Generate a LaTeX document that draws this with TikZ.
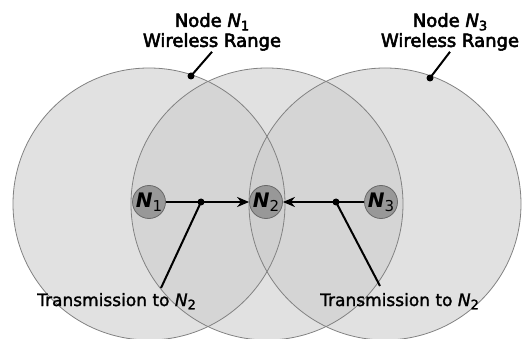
\documentclass[tikz,border=0pt]{standalone}
\usepackage{fontspec}
\setmainfont{DejaVu Sans}
\newfontfamily\rangefont[FakeBold=3]{DejaVu Sans}
\newfontfamily\captionfont[FakeBold=1.5]{DejaVu Sans}
\usetikzlibrary{arrows.meta}
\definecolor{rangefill}{RGB}{205,205,205}
\definecolor{rangeedge}{RGB}{130,130,130}
\definecolor{nodefill}{RGB}{152,152,152}
\definecolor{nodeedge}{RGB}{105,105,105}
\tikzset{
  rangedisc/.style={fill=rangefill, fill opacity=0.6},
  rangeline/.style={draw=rangeedge, line width=0.8pt},
  netnode/.style={circle, fill=nodefill, draw=nodeedge, line width=0.8pt,
    minimum size=33pt, inner sep=0pt, font=\fontsize{20}{20}\selectfont},
  txlink/.style={line width=2.3pt, -{Stealth[length=12pt,width=10pt]}},
  leadline/.style={line width=2pt},
  joint/.style={circle, fill=black, inner sep=0pt, minimum size=7pt},
  txcaption/.style={font=\captionfont\fontsize{17}{20}\selectfont, inner sep=0pt},
  rangelabel/.style={font=\rangefont\fontsize{18}{20}\selectfont, align=center, inner sep=1pt},
}
% node name: bold italic N with a plain subscript
\newcommand{\netname}[1]{\textbf{\textit{N}}\raisebox{-0.35ex}{\fontsize{15}{15}\selectfont #1}}
% name in running text
\newcommand{\txtname}[2]{\textit{N}\raisebox{-0.35ex}{\fontsize{#2}{#2}\selectfont #1}}
\begin{document}
\begin{tikzpicture}[x=1pt,y=-1pt]
\useasboundingbox (0,0) rectangle (522,339);
% wireless ranges
\coordinate (c1) at (149,204);
\coordinate (c2) at (267,204);
\coordinate (c3) at (385,204);
\fill[rangedisc] (c1) circle[radius=136];
\fill[rangedisc] (c2) circle[radius=136];
\fill[rangedisc] (c3) circle[radius=136];
\draw[rangeline] (c1) circle[radius=136];
\draw[rangeline] (c2) circle[radius=136];
\draw[rangeline] (c3) circle[radius=136];
% network nodes
\node[netnode] (n1) at (149,202) {\netname{1}};
\node[netnode] (n2) at (266,202) {\netname{2}};
\node[netnode] (n3) at (381,202) {\netname{3}};
% transmissions
\draw[txlink] (n1) -- (n2);
\draw[txlink] (n3) -- (n2);
\node[joint] (d1) at (201,202) {};
\node[joint] (d2) at (336,202) {};
\node[txcaption, anchor=base west] (tx1) at (37,306) {Transmission to \txtname{2}{13}};
\node[txcaption, anchor=base west] (tx2) at (320,306) {Transmission to \txtname{2}{13}};
\coordinate (e1) at (161,288);
\coordinate (e2) at (380,286);
\draw[leadline] (d1.center) -- (e1);
\draw[leadline] (d2.center) -- (e2);
% range labels
\node[rangelabel, anchor=north] (r1) at (212,12) {Node \txtname{1}{13}\\Wireless Range};
\node[rangelabel, anchor=north] (r3) at (450,12) {Node \txtname{3}{13}\\Wireless Range};
\node[joint] (p1) at (191,76) {};
\node[joint] (p3) at (430,78) {};
\draw[leadline] (r1.south) -- (p1.center);
\draw[leadline] (r3.south) -- (p3.center);
\end{tikzpicture}
\end{document}
